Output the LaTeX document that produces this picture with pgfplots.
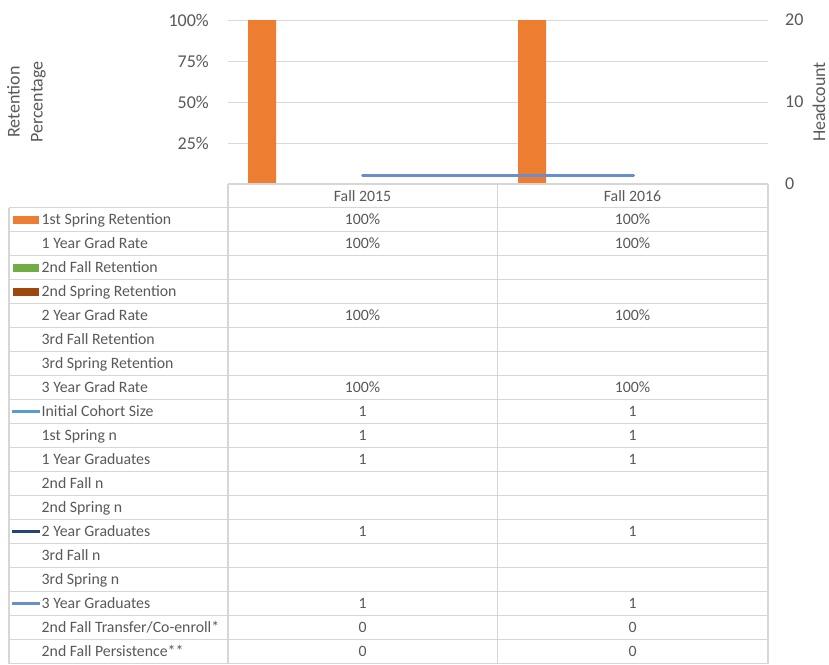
\documentclass[border=0pt]{standalone}
\usepackage{pgfplots}
\pgfplotsset{compat=1.18}
\usepackage{fontspec}
\setmainfont{Carlito}
\definecolor{txt}{HTML}{595959}
\definecolor{gridc}{HTML}{D9D9D9}
\definecolor{borderc}{HTML}{D6D6D6}
\definecolor{c1}{HTML}{ED7D31}
\definecolor{c2}{HTML}{70AD47}
\definecolor{c3}{HTML}{9E480E}
\definecolor{l1}{HTML}{5B9BD5}
\definecolor{l2}{HTML}{264478}
\definecolor{l3}{HTML}{698ED0}
\begin{document}
\begin{tikzpicture}[x=1pt,y=1pt]
\useasboundingbox[fill=white] (0pt,0pt) rectangle (829pt,-664pt);
% ---- left axis: retention percentage (bars)
\begin{axis}[
  at={(228pt,-184pt)}, anchor=south west, scale only axis,
  width=540pt, height=164pt,
  xmin=-0.5, xmax=1.5, ymin=0, ymax=1,
  xtick=\empty,
  ytick={0.25,0.5,0.75,1}, yticklabels={25\%,50\%,75\%,100\%},
  ymajorgrids, grid style={draw=gridc, line width=1pt},
  axis line style={draw=none}, major tick length=0pt,
  tick label style={font=\fontsize{18}{20}\selectfont, text=txt},
  yticklabel style={anchor=east, inner sep=0pt, xshift=-19pt},
  /pgf/number format/assume math mode=true,
  clip=false]
\addplot[ybar, bar width=28pt, bar shift=-101pt, fill=c1, draw=none] coordinates {(0,1) (1,1)};
\end{axis}
% ---- right axis: headcount (lines)
\begin{axis}[
  at={(228pt,-184pt)}, anchor=south west, scale only axis,
  width=540pt, height=164pt,
  xmin=-0.5, xmax=1.5, ymin=0, ymax=20,
  xtick=\empty, axis y line*=right, axis x line=none,
  ytick={0,10,20}, yticklabels={0,10,20},
  axis line style={draw=none}, major tick length=0pt,
  tick label style={font=\fontsize{18}{20}\selectfont, text=txt},
  yticklabel style={anchor=west, inner sep=0pt, xshift=17pt},
  /pgf/number format/assume math mode=true,
  clip=false]
\addplot[color=l1, line width=3pt, line cap=round] coordinates {(0,1) (1,1)};
\addplot[color=l2, line width=3pt, line cap=round] coordinates {(0,1) (1,1)};
\addplot[color=l3, line width=3pt, line cap=round] coordinates {(0,1) (1,1)};
\end{axis}
% ---- axis titles
\node[rotate=90, align=center, inner sep=0pt, text=txt, font=\fontsize{18}{23}\selectfont] at (26.5pt,-102pt) {Retention\\Percentage};
\node[rotate=90, inner sep=0pt, text=txt, font=\fontsize{18}{20}\selectfont] at (819pt,-102pt) {Headcount};
% ---- data table grid
\begin{scope}[draw=borderc, line width=1.3pt]
\draw (228pt,-184pt) -- (768pt,-184pt);
\foreach \i in {0,...,19} {\draw (9pt,{-207.5pt-24pt*\i}) -- (768pt,{-207.5pt-24pt*\i});}
\draw (9pt,-207.5pt) -- (9pt,-663.5pt);
\draw (228pt,-184pt) -- (228pt,-663.5pt);
\draw (497.5pt,-184pt) -- (497.5pt,-663.5pt);
\draw (768pt,-184pt) -- (768pt,-663.5pt);
\end{scope}
\begin{scope}[text=txt, font=\fontsize{15.8}{18}\selectfont]
\node[anchor=base, inner sep=0pt] at (362.5pt,-201.5pt) {Fall 2015};
\node[anchor=base, inner sep=0pt] at (632.5pt,-201.5pt) {Fall 2016};
\newcommand{\trow}[4]{%
 \node[anchor=base west, inner sep=0pt] at (41.5pt,{-224.5pt-24pt*#1}) {#2};
 \node[anchor=base, inner sep=0pt] at (362.5pt,{-224.5pt-24pt*#1}) {#3};
 \node[anchor=base, inner sep=0pt] at (632.5pt,{-224.5pt-24pt*#1}) {#4};}
\trow{0}{1st Spring Retention}{100\%}{100\%}
\trow{1}{1 Year Grad Rate}{100\%}{100\%}
\trow{2}{2nd Fall Retention}{}{}
\trow{3}{2nd Spring Retention}{}{}
\trow{4}{2 Year Grad Rate}{100\%}{100\%}
\trow{5}{3rd Fall Retention}{}{}
\trow{6}{3rd Spring Retention}{}{}
\trow{7}{3 Year Grad Rate}{100\%}{100\%}
\trow{8}{Initial Cohort Size}{1}{1}
\trow{9}{1st Spring n}{1}{1}
\trow{10}{1 Year Graduates}{1}{1}
\trow{11}{2nd Fall n}{}{}
\trow{12}{2nd Spring n}{}{}
\trow{13}{2 Year Graduates}{1}{1}
\trow{14}{3rd Fall n}{}{}
\trow{15}{3rd Spring n}{}{}
\trow{16}{3 Year Graduates}{1}{1}
\trow{17}{2nd Fall Transfer/Co-enroll*}{0}{0}
\trow{18}{2nd Fall Persistence**}{0}{0}
\end{scope}
% ---- legend keys
\fill[c1] (12.7pt,-215.5pt) rectangle (39pt,-223.5pt);
\fill[c2] (12.7pt,-263.5pt) rectangle (39pt,-271.5pt);
\fill[c3] (12.7pt,-287.5pt) rectangle (39pt,-295.5pt);
\draw[l1, line width=3pt] (12pt,-411.5pt) -- (40pt,-411.5pt);
\draw[l2, line width=3pt] (12pt,-531.5pt) -- (40pt,-531.5pt);
\draw[l3, line width=3pt] (12pt,-603.5pt) -- (40pt,-603.5pt);
\end{tikzpicture}
\end{document}
